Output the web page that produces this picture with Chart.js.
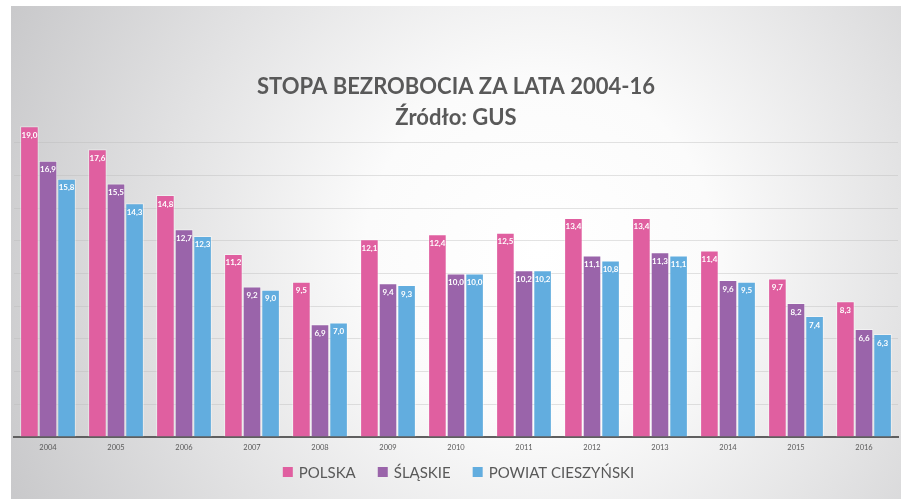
<!DOCTYPE html>
<html lang="pl">
<head>
<meta charset="utf-8">
<script src="https://cdn.jsdelivr.net/npm/chart.js@4.4.1/dist/chart.umd.min.js"></script>
<style>
    html, body { margin: 0; padding: 0; background: #fff; }
    #wrap { width: 901px; height: 499px; position: relative; }
</style>
</head>
<body>
<div id="wrap"><canvas id="chart"></canvas></div>
<script>
const years = ['2004', '2005', '2006', '2007', '2008', '2009', '2010', '2011', '2012', '2013', '2014', '2015', '2016'];
const polska = [19.0, 17.6, 14.8, 11.2, 9.5, 12.1, 12.4, 12.5, 13.4, 13.4, 11.4, 9.7, 8.3];
const slaskie = [16.9, 15.5, 12.7, 9.2, 6.9, 9.4, 10.0, 10.2, 11.1, 11.3, 9.6, 8.2, 6.6];
const powiat = [15.8, 14.3, 12.3, 9.0, 7.0, 9.3, 10.0, 10.2, 10.8, 11.1, 9.5, 7.4, 6.3];
const seriesNames = ['POLSKA', 'ŚLĄSKIE', 'POWIAT CIESZYŃSKI'];
const seriesColors = ['#E05FA0', '#9A64AA', '#62ADDF'];
const titleLines = ['STOPA BEZROBOCIA ZA LATA 2004-16', 'Źródło: GUS'];

const textGray = '#595959';

// panel background with soft radial gradient
const backgroundPlugin = {
    id: 'panelBackground',
    beforeDraw(chart) {
        const ctx = chart.ctx;
        ctx.save();
        ctx.fillStyle = '#ffffff';
        ctx.fillRect(0, 0, chart.width, chart.height);
        const g = ctx.createRadialGradient(540, 250, 0, 540, 250, 580);
        g.addColorStop(0, '#ffffff');
        g.addColorStop(0.3, '#fbfbfb');
        g.addColorStop(1, '#c9c9cb');
        ctx.fillStyle = g;
        ctx.fillRect(11, 6, chart.width - 11, chart.height - 6);
        ctx.restore();
    }
};

// title and legend drawn as canvas text
const titleLegendPlugin = {
    id: 'titleLegend',
    afterDraw(chart) {
        const ctx = chart.ctx;
        ctx.save();
        ctx.fillStyle = textGray;
        ctx.textAlign = 'center';
        ctx.textBaseline = 'alphabetic';
        ctx.font = 'bold 22px Lato';
        ctx.fillText(titleLines[0], 456, 94);
        ctx.fillText(titleLines[1], 456, 125);

        ctx.font = '15px Lato';
        ctx.textAlign = 'left';
        ctx.textBaseline = 'middle';
        const box = 10, gapText = 6, gapItem = 22;
        const items = chart.data.datasets.map(ds => ({
            label: ds.label, color: ds.backgroundColor, w: ctx.measureText(ds.label).width
        }));
        let total = 0;
        items.forEach((it, i) => { total += box + gapText + it.w + (i < items.length - 1 ? gapItem : 0); });
        let x = 458.5 - total / 2;
        const y = 472;
        items.forEach(it => {
            ctx.fillStyle = it.color;
            ctx.fillRect(x, y - box / 2, box, box);
            ctx.fillStyle = textGray;
            ctx.fillText(it.label, x + box + gapText, y + 1);
            x += box + gapText + it.w + gapItem;
        });
        ctx.restore();
    }
};

// values inside top of each bar
const valueLabelPlugin = {
    id: 'valueLabels',
    afterDatasetsDraw(chart) {
        const ctx = chart.ctx;
        ctx.save();
        ctx.fillStyle = '#ffffff';
        ctx.font = 'bold 8px Lato';
        ctx.textAlign = 'center';
        ctx.textBaseline = 'middle';
        chart.data.datasets.forEach((ds, di) => {
            chart.getDatasetMeta(di).data.forEach((bar, i) => {
                const txt = ds.data[i].toFixed(1).replace('.', ',');
                ctx.fillText(txt, bar.x, bar.y + 9);
            });
        });
        ctx.restore();
    }
};

const seriesData = [polska, slaskie, powiat];

new Chart(document.getElementById('chart'), {
    type: 'bar',
    data: {
        labels: years,
        datasets: seriesData.map((values, i) => ({
            label: seriesNames[i],
            data: values,
            backgroundColor: seriesColors[i],
            borderColor: 'rgba(255, 255, 255, 0.45)',
            borderWidth: 1,
            categoryPercentage: 0.82,
            barPercentage: 1.0
        }))
    },
    options: {
        responsive: true,
        maintainAspectRatio: false,
        animation: false,
        layout: {
            padding: { left: 14, right: 3, top: 110, bottom: 41 }
        },
        plugins: {
            legend: { display: false },
            title: { display: false },
            tooltip: { enabled: false }
        },
        scales: {
            x: {
                z: 2,
                grid: { display: false, drawTicks: false },
                border: { display: true, color: '#5f5f5f', width: 2 },
                ticks: {
                    color: textGray,
                    font: { family: 'Lato', size: 7.5 },
                    padding: 6
                }
            },
            y: {
                z: 1,
                min: 0,
                max: 20,
                ticks: { display: false, stepSize: 2 },
                border: { display: false },
                grid: {
                    drawTicks: false,
                    color: ctx => ctx.tick.value === 20 ? 'rgba(0,0,0,0)' : 'rgba(185, 185, 185, 0.4)'
                }
            }
        }
    },
    plugins: [backgroundPlugin, valueLabelPlugin, titleLegendPlugin]
});
</script>
</body>
</html>
